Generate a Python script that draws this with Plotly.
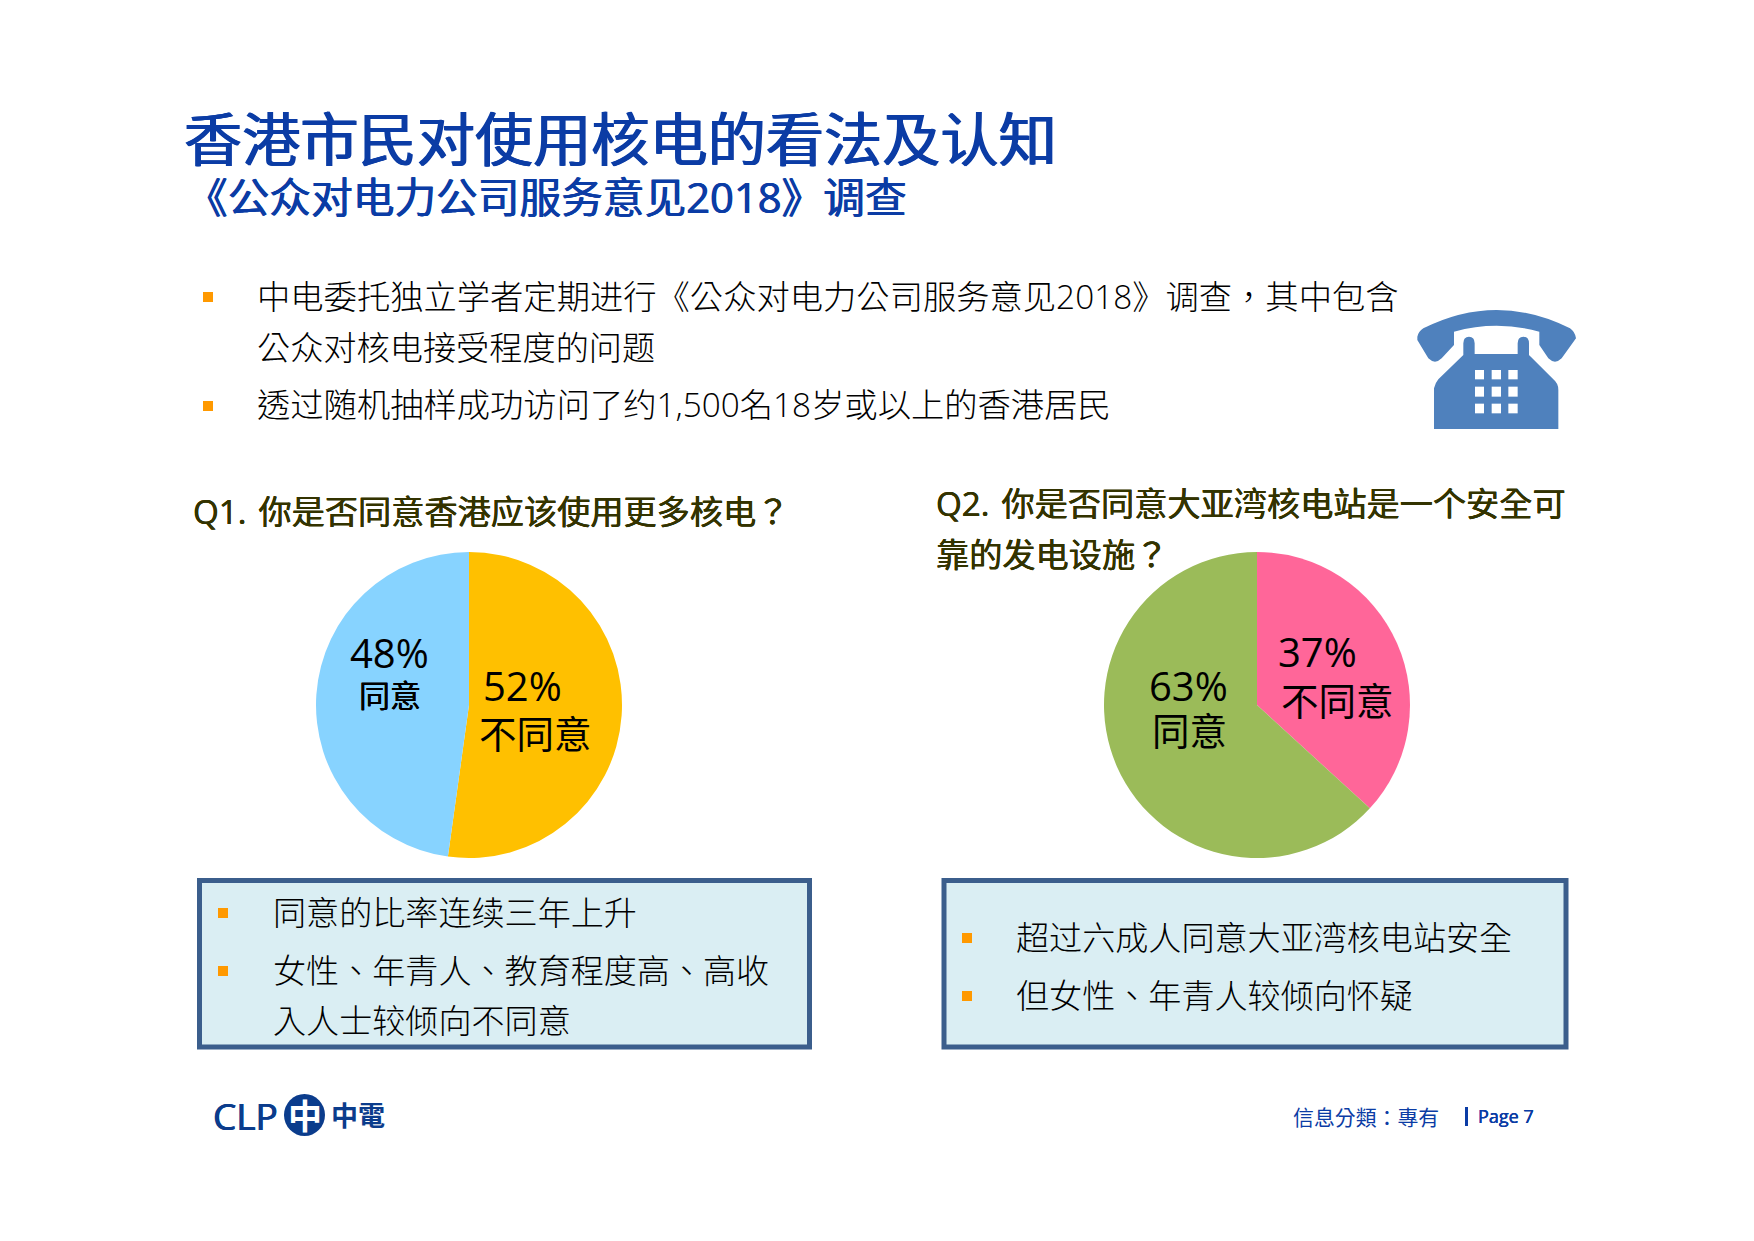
import plotly.graph_objects as go

W, H = 1754, 1241
def X(v): return v / W
def Y(v): return 1 - v / H

# ---- data ----
q1_labels = ["不同意", "同意"]
q1_values = [52.2, 47.8]
q1_colors = ["#FFC000", "#87D3FF"]
q2_labels = ["不同意", "同意"]
q2_values = [36.8, 63.2]
q2_colors = ["#FF6699", "#9BBB59"]

CJK = "Noto Sans CJK TC"
SC = "Noto Sans CJK SC"
LAT = "Open Sans"
MIX_SC = "Open Sans, Noto Sans CJK SC"
MIX_TC = "Open Sans, Noto Sans CJK TC"
BLUE = "#0B3CA5"
OLIVE = "#333300"
ORANGE = "#FF9900"
PHONE = "#4F81BD"

PIE_R = 153
def domain(cx, cy, r=PIE_R):
    return dict(x=[X(cx - r), X(cx + r)], y=[Y(cy + r), Y(cy - r)])

fig = go.Figure()
for labels, values, colors, cx in [(q1_labels, q1_values, q1_colors, 469),
                                   (q2_labels, q2_values, q2_colors, 1257)]:
    fig.add_trace(go.Pie(labels=labels, values=values, sort=False, direction="clockwise",
                         rotation=0, marker=dict(colors=colors, line=dict(width=0)),
                         textinfo="none", hoverinfo="label+percent", showlegend=False,
                         domain=domain(cx, 705)))

shapes, ann = [], []
def text(x, y, s, size, color="#000000", family=CJK, anchor="left", weight=None, fat=0):
    font = dict(size=size, color=color, family=family)
    if weight:
        font["weight"] = weight
    if fat:
        font["shadow"] = f"{fat}px 0 0 {color}, -{fat}px 0 0 {color}"
    ann.append(dict(xref="paper", yref="paper", x=X(x), y=Y(y), text=s, showarrow=False,
                    xanchor=anchor, yanchor="middle", font=font, borderpad=0, borderwidth=0))
def rect(x0, y0, x1, y1, fill, line=None, lw=0):
    shapes.append(dict(type="rect", xref="paper", yref="paper", x0=X(x0), x1=X(x1), y0=Y(y0), y1=Y(y1),
                       fillcolor=fill, line=dict(color=line or fill, width=lw)))
def bullet(x, y):
    rect(x, y - 5, x + 10, y + 5, ORANGE)
def path(points, fill):
    shapes.append(dict(type="path", xref="paper", yref="paper", fillcolor=fill, line=dict(width=0),
                       path=points))

# title block
text(184, 135, "香港市民对使用核电的看法及认知", 58.2, BLUE, SC, fat=0.8)
text(186, 197, "《公众对电力公司服务意见2018》调查", 41.7, BLUE, MIX_SC, fat=0.5)

# intro bullets
bullet(203, 297); bullet(203, 406)
text(257, 296, "中电委托独立学者定期进行《公众对电力公司服务意见2018》调查，其中包含", 33.3, family=MIX_TC, weight=300)
text(257, 345, "公众对核电接受程度的问题", 33.2, weight=300)
text(257, 404, "透过随机抽样成功访问了约1,500名18岁或以上的香港居民", 33.3, family=MIX_TC, weight=300)

# questions
text(193, 511, "Q1.\u200a 你是否同意香港应该使用更多核电？", 33.2, OLIVE, MIX_TC, fat=0.3)
text(936, 503, "Q2.\u200a 你是否同意大亚湾核电站是一个安全可", 33.2, OLIVE, MIX_TC, fat=0.3)
text(936, 552, "靠的发电设施？", 33.2, OLIVE, CJK, fat=0.3)

# pie labels
text(389, 652, f"{q1_values[1]:.0f}%", 40, anchor="center", family=LAT)
text(390, 693, q1_labels[1], 31, anchor="center", fat=0.2)
text(522, 685, f"{q1_values[0]:.0f}%", 40, anchor="center", family=LAT)
text(535, 731, q1_labels[0], 37.5, anchor="center")
text(1317, 651, f"{q2_values[0]:.0f}%", 40, anchor="center", family=LAT)
text(1337, 698, q2_labels[0], 37.5, anchor="center")
text(1188, 685, f"{q2_values[1]:.0f}%", 40, anchor="center", family=LAT)
text(1189, 728, q2_labels[1], 37.5, anchor="center")

# summary boxes
rect(199.5, 880.5, 809.5, 1047, "#DAEEF3", "#3B5E8C", 5)
rect(944, 880.5, 1566, 1047, "#DAEEF3", "#3B5E8C", 5)
bullet(218, 913); bullet(218, 971)
text(273, 911, "同意的比率连续三年上升", 33.1, weight=300)
text(273, 969, "女性、年青人、教育程度高、高收", 33.1, weight=300)
text(273, 1019, "入人士较倾向不同意", 33.1, weight=300)
bullet(962, 938); bullet(962, 996)
text(1016, 936, "超过六成人同意大亚湾核电站安全", 33.1, weight=300)
text(1016, 994, "但女性、年青人较倾向怀疑", 33.1, weight=300)

# telephone icon (drawn in zoom-crop units: origin 1300,280, scale 3)
def p(x, y):
    return f"{X(1300 + x / 3):.5f},{Y(280 + y / 3):.5f}"
handset = ("M" + p(352, 170) + " Q" + p(355, 155) + " " + p(370, 145) + " Q" + p(590, 35) + " " + p(810, 145) +
           " Q" + p(825, 155) + " " + p(828, 175) + " L" + p(785, 235) + " Q" + p(765, 255) + " " + p(745, 235) +
           " L" + p(718, 195) + " L" + p(718, 155) + " Q" + p(590, 120) + " " + p(462, 155) +
           " L" + p(462, 195) + " L" + p(425, 235) + " Q" + p(405, 255) + " " + p(385, 235) + " L" + p(352, 180) + " Z")
body = ("M" + p(402, 447) + " L" + p(402, 325) + " Q" + p(405, 310) + " " + p(415, 298) + " L" + p(490, 225) +
        " L" + p(490, 190) + " Q" + p(490, 170) + " " + p(507, 170) + " Q" + p(524, 170) + " " + p(524, 190) +
        " L" + p(524, 222) + " L" + p(653, 222) + " L" + p(653, 190) + " Q" + p(653, 170) + " " + p(670, 170) +
        " Q" + p(687, 170) + " " + p(687, 190) + " L" + p(687, 225) + " L" + p(760, 298) + " Q" + p(775, 310) + " " +
        p(775, 330) + " L" + p(775, 447) + " Z")
path(handset, PHONE)
path(body, PHONE)
for kx0, kx1 in [(525, 552), (575, 603), (625, 653)]:
    for ky0, ky1 in [(270, 298), (320, 350), (371, 400)]:
        rect(1300 + kx0 / 3, 280 + ky0 / 3, 1300 + kx1 / 3, 280 + ky1 / 3, "#FFFFFF")

# footer / logo
text(213, 1115, "CLP", 37, "#0B3C8C", LAT, fat=0.5)
shapes.append(dict(type="circle", xref="paper", yref="paper", x0=X(284), x1=X(325), y0=Y(1136), y1=Y(1094),
                   fillcolor="#0B3C8C", line=dict(width=0)))
text(304.5, 1114, "中", 34, "#FFFFFF", SC, "center", "bold")
text(331, 1114, "中電", 27, "#0B3C8C", CJK, weight="bold")
text(1293, 1116, "信息分類：專有", 20.9, BLUE)
rect(1465, 1107, 1468, 1126, BLUE)
text(1478, 1116, "Page 7", 18, BLUE, LAT, fat=0.15)

fig.update_layout(width=W, height=H, margin=dict(l=0, r=0, t=0, b=0), autosize=False,
                  paper_bgcolor="#FFFFFF", plot_bgcolor="#FFFFFF", shapes=shapes, annotations=ann,
                  showlegend=False)
fig.write_html("out.html", post_script="document.body.style.margin='0';",
               config=dict(displayModeBar=False))
